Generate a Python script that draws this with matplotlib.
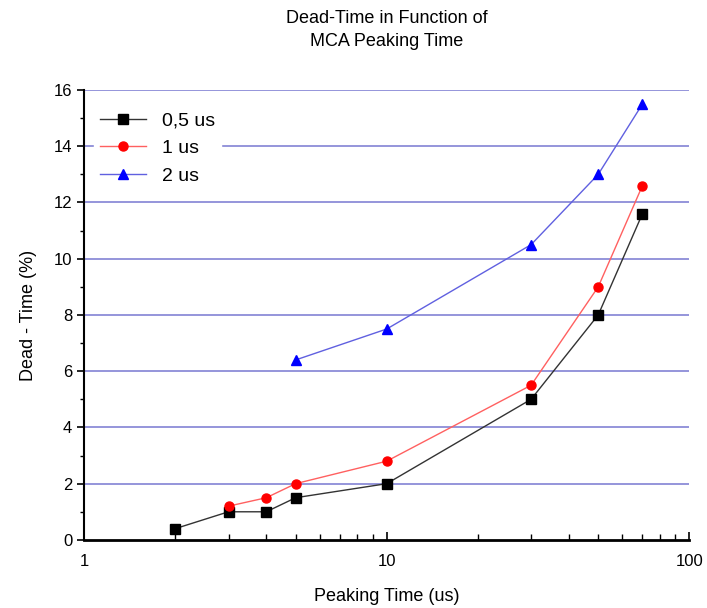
import matplotlib.pyplot as plt
from matplotlib.ticker import MultipleLocator, LogLocator, NullFormatter

plt.rcParams['font.family'] = ['Liberation Sans', 'DejaVu Sans']

# Data
x_05 = [2, 3, 4, 5, 10, 30, 50, 70]
y_05 = [0.4, 1.0, 1.0, 1.5, 2.0, 5.0, 8.0, 11.6]
x_1 = [3, 4, 5, 10, 30, 50, 70]
y_1 = [1.2, 1.5, 2.0, 2.8, 5.5, 9.0, 12.6]
x_2 = [5, 10, 30, 50, 70]
y_2 = [6.4, 7.5, 10.5, 13.0, 15.5]
labels = ["0,5 us", "1 us", "2 us"]

fig = plt.figure(figsize=(7.07, 6.08), dpi=100)
ax = fig.add_axes([0.119, 0.112, 0.856, 0.740])

for y in range(2, 17, 2):
    ax.axhline(y, color="#8c8cd8", lw=1.3, zorder=0)

ax.plot(x_05, y_05, color="#333333", lw=1, marker="s", ms=6.5, mfc="black", mec="black", label=labels[0], zorder=3)
ax.plot(x_1, y_1, color="#ff6060", lw=1, marker="o", ms=6.5, mfc="red", mec="red", label=labels[1], zorder=3)
ax.plot(x_2, y_2, color="#6060e0", lw=1, marker="^", ms=7.5, mfc="blue", mec="blue", label=labels[2], zorder=3)

ax.set_xscale("log")
ax.set_xlim(1, 100)
ax.set_ylim(0, 16)
ax.xaxis.set_minor_locator(LogLocator(base=10, subs=range(2, 10), numticks=20))
ax.xaxis.set_minor_formatter(NullFormatter())
ax.set_xticks([1, 10, 100])
ax.set_xticklabels(["1", "10", "100"])
ax.yaxis.set_major_locator(MultipleLocator(2))
ax.yaxis.set_minor_locator(MultipleLocator(1))

for s in ["top", "right"]:
    ax.spines[s].set_visible(False)
ax.spines["left"].set_linewidth(1.5)
ax.spines["bottom"].set_linewidth(2)
ax.tick_params(axis="x", which="both", direction="in", labelsize=12, pad=10)
ax.tick_params(axis="x", which="major", length=6, width=1.2)
ax.tick_params(axis="x", which="minor", length=4, width=1)
ax.tick_params(axis="y", which="both", direction="out", labelsize=12)
ax.tick_params(axis="y", which="major", length=5, width=1.2)
ax.tick_params(axis="y", which="minor", length=3, width=1)

ax.set_xlabel("Peaking Time (us)", fontsize=13, labelpad=14)
ax.set_ylabel("Dead - Time (%)", fontsize=13, labelpad=12)
ax.set_title("Dead-Time in Function of\nMCA Peaking Time", fontsize=13, pad=32, linespacing=1.45)

leg = ax.legend(loc="upper left", bbox_to_anchor=(0.0, 0.985), fontsize=14, frameon=True,
                fancybox=False, edgecolor="white", framealpha=1, handlelength=2.4,
                labelspacing=0.5, borderpad=0.3)

fig.savefig("out.png", dpi=100)
